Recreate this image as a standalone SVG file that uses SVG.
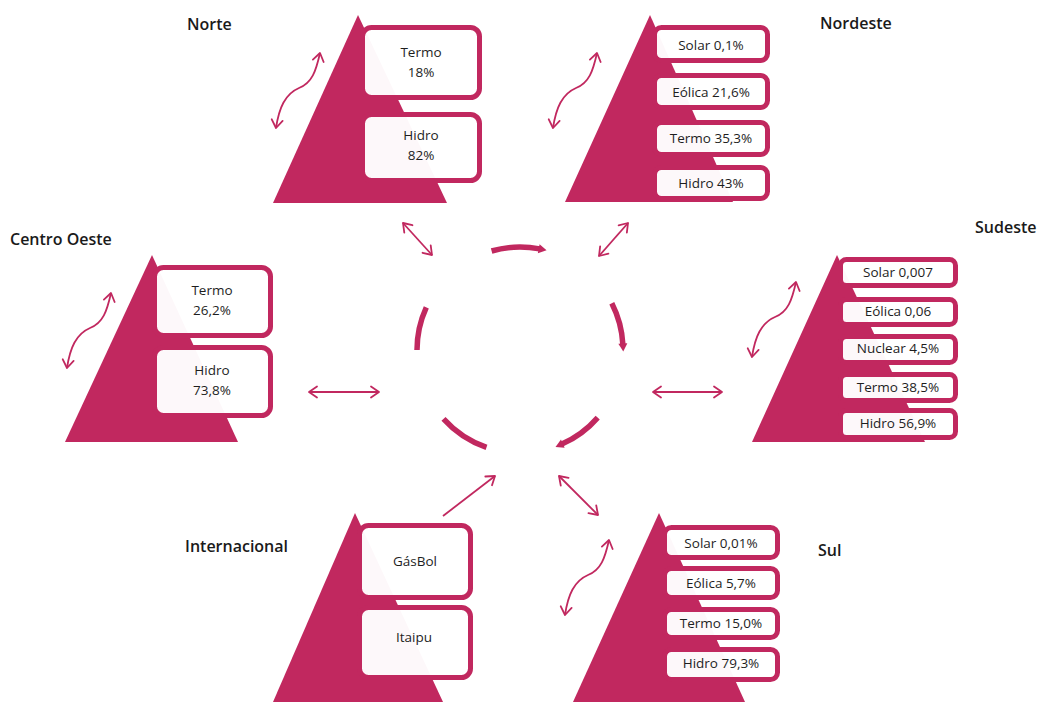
<svg xmlns="http://www.w3.org/2000/svg" width="1040" height="707" viewBox="0 0 1040 707">
  <defs>
    <style>
      .tri { fill: #c1285f; }
      .box { fill: #ffffff; fill-opacity: 0.97; stroke: #c1285f; stroke-width: 5; }
      .lbl { font-family: "Open Sans", "Liberation Sans", sans-serif; font-size: 16px; font-weight: 600; fill: #1a1a1a; }
      .txt { font-family: "Open Sans", "Liberation Sans", sans-serif; font-size: 13.5px; font-weight: 500; fill: #1e1e1e; text-anchor: middle; }
      .link { fill: none; stroke: #c1285f; stroke-width: 1.8; marker-start: url(#open); marker-end: url(#open); }
      .one { fill: none; stroke: #c1285f; stroke-width: 1.8; marker-end: url(#open); }
      .arc { fill: none; stroke: #c1285f; stroke-width: 5.5; }
      .arc.head { marker-end: url(#solid); }
    </style>
    <marker id="open" markerUnits="userSpaceOnUse" markerWidth="20" markerHeight="20" refX="0" refY="0" viewBox="-10 -10 20 20" orient="auto-start-reverse">
      <path d="M-8,-5.5 L0,0 L-8,5.5" fill="none" stroke="#c1285f" stroke-width="1.8" stroke-linecap="round" stroke-linejoin="round"/>
    </marker>
    <marker id="solid" markerUnits="userSpaceOnUse" markerWidth="20" markerHeight="20" refX="0" refY="0" viewBox="-10 -10 20 20" orient="auto">
      <path d="M-1,-4.5 L7,0 L-1,4.5 Z" fill="#c1285f"/>
    </marker>
    <path id="wave" d="M0,0 C3,-20 9,-34 23,-40 C36,-45 40,-57 44,-75"/>
  </defs>

  <rect width="1040" height="707" fill="#ffffff"/>

  <!-- connectors: central cycle, links to each region, wavy side arrows -->
  <g id="connectors">
    <path class="arc head" d="M491.6,251 A103,103 0 0 1 539.7,248.9"/>
    <path class="arc head" d="M611.8,303.2 A103,103 0 0 1 622.9,344.6"/>
    <path class="arc head" d="M597.7,417.6 A103,103 0 0 1 561.9,444.1"/>
    <path class="arc" d="M486.5,447.4 A103,103 0 0 1 443.5,418.9"/>
    <path class="arc" d="M417,350 A103,103 0 0 1 426.3,307.3"/>

    <line class="link" x1="403" y1="223" x2="432" y2="255"/>
    <line class="link" x1="628" y1="223" x2="599" y2="256"/>
    <line class="link" x1="309" y1="392" x2="379" y2="392"/>
    <line class="link" x1="653" y1="392" x2="722" y2="392"/>
    <line class="one" x1="443" y1="516" x2="495" y2="476"/>
    <line class="link" x1="559" y1="476" x2="598" y2="515"/>

    <use href="#wave" class="link" transform="translate(276,128)"/>
    <use href="#wave" class="link" transform="translate(553,128)"/>
    <use href="#wave" class="link" transform="translate(67,368)"/>
    <use href="#wave" class="link" transform="translate(752,357)"/>
    <use href="#wave" class="link" transform="translate(565,615)"/>
  </g>

  <!-- Norte -->
  <g id="norte">
    <text class="lbl" x="187" y="30">Norte</text>
    <polygon class="tri" points="358,15 273,203 447,203"/>
    <rect class="box" x="362.5" y="27.5" width="117" height="70" rx="9"/>
    <rect class="box" x="362.5" y="114.5" width="117" height="66" rx="9"/>
    <text class="txt" x="421" y="57">Termo</text>
    <text class="txt" x="421" y="77">18%</text>
    <text class="txt" x="421" y="140">Hidro</text>
    <text class="txt" x="421" y="160">82%</text>
  </g>

  <!-- Nordeste -->
  <g id="nordeste">
    <text class="lbl" x="820" y="29">Nordeste</text>
    <polygon class="tri" points="650,15 565,202 733,202"/>
    <rect class="box" x="654.5" y="27.5" width="113" height="33" rx="7"/>
    <rect class="box" x="654.5" y="75.5" width="113" height="32" rx="7"/>
    <rect class="box" x="654.5" y="122.5" width="113" height="32" rx="7"/>
    <rect class="box" x="654.5" y="167.5" width="113" height="31" rx="7"/>
    <text class="txt" x="711" y="50">Solar 0,1%</text>
    <text class="txt" x="711" y="97">Eólica 21,6%</text>
    <text class="txt" x="711" y="143">Termo 35,3%</text>
    <text class="txt" x="711" y="188">Hidro 43%</text>
  </g>

  <!-- Centro Oeste -->
  <g id="centro-oeste">
    <text class="lbl" x="10" y="245">Centro Oeste</text>
    <polygon class="tri" points="152,255 65,442 238,442"/>
    <rect class="box" x="154.5" y="267.5" width="116" height="68" rx="9"/>
    <rect class="box" x="154.5" y="347.5" width="116" height="68" rx="9"/>
    <text class="txt" x="212" y="295">Termo</text>
    <text class="txt" x="212" y="315">26,2%</text>
    <text class="txt" x="212" y="375">Hidro</text>
    <text class="txt" x="212" y="395">73,8%</text>
  </g>

  <!-- Sudeste -->
  <g id="sudeste">
    <text class="lbl" x="975" y="233">Sudeste</text>
    <polygon class="tri" points="837,255 752,442 925,442"/>
    <rect class="box" x="840.5" y="259.5" width="115" height="26" rx="6"/>
    <rect class="box" x="840.5" y="299.5" width="115" height="25" rx="6"/>
    <rect class="box" x="840.5" y="336.5" width="115" height="26" rx="6"/>
    <rect class="box" x="840.5" y="374.5" width="115" height="26" rx="6"/>
    <rect class="box" x="840.5" y="410.5" width="115" height="27" rx="6"/>
    <text class="txt" x="898" y="277">Solar 0,007</text>
    <text class="txt" x="898" y="316">Eólica 0,06</text>
    <text class="txt" x="898" y="353">Nuclear 4,5%</text>
    <text class="txt" x="898" y="392">Termo 38,5%</text>
    <text class="txt" x="898" y="428">Hidro 56,9%</text>
  </g>

  <!-- Internacional -->
  <g id="internacional">
    <text class="lbl" x="185" y="552">Internacional</text>
    <polygon class="tri" points="355,513 273,702 443,702"/>
    <rect class="box" x="359.5" y="525.5" width="111" height="72" rx="9"/>
    <rect class="box" x="359.5" y="607.5" width="111" height="70" rx="9"/>
    <text class="txt" x="415" y="566">GásBol</text>
    <text class="txt" x="414" y="642">Itaipu</text>
  </g>

  <!-- Sul -->
  <g id="sul">
    <text class="lbl" x="818" y="556">Sul</text>
    <polygon class="tri" points="659,513 573,702 745,702"/>
    <rect class="box" x="664.5" y="527.5" width="113" height="30" rx="7"/>
    <rect class="box" x="664.5" y="568.5" width="113" height="29" rx="7"/>
    <rect class="box" x="664.5" y="609.5" width="113" height="28" rx="7"/>
    <rect class="box" x="664.5" y="649.5" width="113" height="30" rx="7"/>
    <text class="txt" x="721" y="548">Solar 0,01%</text>
    <text class="txt" x="721" y="588">Eólica 5,7%</text>
    <text class="txt" x="721" y="628">Termo 15,0%</text>
    <text class="txt" x="721" y="668">Hidro 79,3%</text>
  </g>
</svg>
